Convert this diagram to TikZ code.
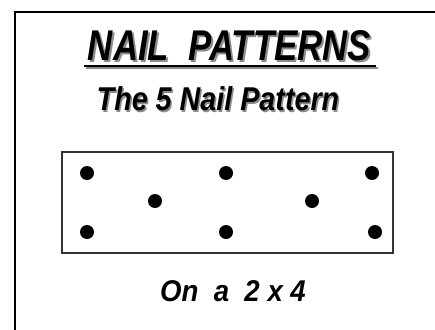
\documentclass[tikz,border=0pt]{standalone}
\usepackage{fontspec}
\setmainfont{Liberation Sans}
\usepackage{graphicx}
\begin{document}
\begin{tikzpicture}[x=1pt,y=-1pt,
  nail/.style={circle,fill=black,minimum size=14pt,inner sep=0pt},
  txt/.style={inner sep=0pt,anchor=base,font=\bfseries\itshape},
  shadowtxt/.style={txt,text=black!45}]
\useasboundingbox (0,0) rectangle (435,329);
% outer frame (open at right and bottom)
\coordinate (fbl) at (15,335);
\coordinate (ftl) at (15,12);
\coordinate (ftr) at (440,12);
\draw[line width=2.4pt] (fbl) -- (ftl) -- (ftr);
% title
\node[shadowtxt] (titleS) at (231.5,62) {\fontsize{43}{43}\selectfont\scalebox{0.81}[1]{NAIL\ \ PATTERNS}};
\node[txt] (title) at (229.5,60) {\fontsize{43}{43}\selectfont\scalebox{0.81}[1]{NAIL\ \ PATTERNS}};
\coordinate (ulS1) at (86,68);
\coordinate (ulS2) at (378,68);
\coordinate (ul1) at (84,66);
\coordinate (ul2) at (376,66);
\draw[line width=2.6pt,black!45] (ulS1) -- (ulS2);
\draw[line width=2.6pt] (ul1) -- (ul2);
% subtitle
\node[shadowtxt] (subS) at (219.5,112) {\fontsize{33}{33}\selectfont\scalebox{0.87}[1]{The 5 Nail Pattern}};
\node[txt] (sub) at (218,110.5) {\fontsize{33}{33}\selectfont\scalebox{0.87}[1]{The 5 Nail Pattern}};
% board
\node[draw=black!80,line width=1.2pt,minimum width=331pt,minimum height=101pt,inner sep=0pt] (board) at (227.5,202.5) {};
% nails
\node[nail] (n1) at (87,173) {};
\node[nail] (n2) at (226,173) {};
\node[nail] (n3) at (372,173) {};
\node[nail] (n4) at (155,201) {};
\node[nail] (n5) at (312,201) {};
\node[nail] (n6) at (87,232) {};
\node[nail] (n7) at (226,232) {};
\node[nail] (n8) at (375,232) {};
% bottom caption
\node[txt] (cap) at (233,301) {\fontsize{30}{30}\selectfont\scalebox{0.92}[1]{On\ \ a\ \ 2 x 4}};
\end{tikzpicture}
\end{document}
